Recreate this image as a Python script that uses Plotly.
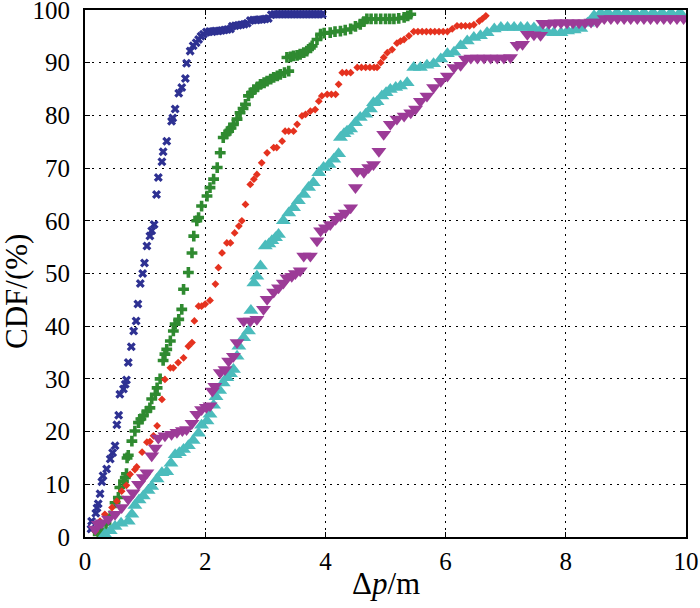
import plotly.graph_objects as go

# CDF of position error (x in m, y in %)
blue_x = [0.10, 0.11, 0.18, 0.20, 0.22, 0.25, 0.28, 0.30, 0.36, 0.42, 0.46, 0.50,
          0.53, 0.56, 0.58, 0.64, 0.67, 0.69, 0.72, 0.77, 0.81, 0.85, 0.88, 0.92,
          0.96, 0.99, 1.03, 1.08, 1.11, 1.15, 1.19, 1.22, 1.28, 1.30, 1.36, 1.44,
          1.46, 1.50, 1.56, 1.61, 1.67, 1.69, 1.75, 1.80, 1.85, 1.89, 1.93, 1.97,
          2.02, 2.07, 2.12, 2.17, 2.22, 2.27, 2.32, 2.37, 2.42,
          2.45, 2.50, 2.55, 2.60, 2.65, 2.70,
          2.75, 2.80, 2.85, 2.90, 2.95, 3.00, 3.05,
          3.10, 3.15, 3.20, 3.25, 3.30, 3.35, 3.40, 3.45, 3.50, 3.55, 3.60, 3.65,
          3.70, 3.75, 3.80, 3.85, 3.90, 3.95]
blue_y = [1.5, 3.0, 4.5, 5.5, 6.3, 8.2, 10.5, 11.6, 12.9, 14.8, 16.0, 17.3,
          21.3, 23.1, 27.1, 28.1, 29.0, 29.8, 33.1, 36.1, 39.1, 41.0, 44.2, 48.1,
          50.0, 52.0, 55.2, 57.1, 58.1, 59.3, 65.0, 68.2, 71.2, 73.1, 75.1, 78.9,
          79.5, 81.2, 84.2, 85.3, 87.0, 89.9, 92.2, 93.2, 93.8, 94.4, 95.0, 95.4,
          95.8, 95.9, 95.9, 96.0, 96.0, 96.1, 96.2, 96.3, 96.4,
          96.9, 97.0, 97.1, 97.2, 97.3, 97.5,
          98.0, 98.1, 98.1, 98.2, 98.2, 98.3, 98.4,
          99.1, 99.2, 99.2, 99.2, 99.2, 99.2, 99.2, 99.2, 99.2, 99.2, 99.2, 99.2,
          99.2, 99.2, 99.2, 99.2, 99.2, 99.2]

green_x = [0.22, 0.25, 0.28, 0.35, 0.42, 0.50, 0.555, 0.58, 0.64, 0.67, 0.69, 0.70,
           0.72, 0.78, 0.83, 0.89, 0.93, 0.97, 1.03, 1.08, 1.11, 1.17, 1.20, 1.25,
           1.30, 1.33, 1.36, 1.42, 1.47, 1.50, 1.56, 1.61, 1.64, 1.72, 1.78, 1.81,
           1.86, 1.89, 1.94, 2.03, 2.08, 2.14, 2.20, 2.25, 2.30, 2.35, 2.39, 2.43,
           2.47, 2.53, 2.58, 2.63, 2.67, 2.72, 2.77, 2.81, 2.87, 2.92, 2.98, 3.03,
           3.09, 3.14, 3.20, 3.25, 3.32, 3.39, 3.36, 3.42, 3.47, 3.53, 3.58, 3.64,
           3.69, 3.75, 3.78, 3.86, 3.92, 3.98, 4.08, 4.16, 4.25, 4.33, 4.42, 4.50,
           4.58, 4.64, 4.69, 4.76, 4.84, 4.92, 5.00, 5.07, 5.14, 5.22, 5.31, 5.37,
           5.42]
green_y = [0.5, 0.9, 1.3, 2.5, 4.0, 6.5, 7.5, 9.4, 10.6, 11.3, 12.0, 15.0,
           15.5, 18.2, 20.1, 21.7, 22.4, 23.0, 23.9, 24.5, 26.2, 27.1, 28.3, 30.0,
           33.5, 34.7, 35.6, 37.2, 39.1, 40.4, 41.3, 43.2, 47.0, 50.2, 53.9, 57.1,
           60.0, 60.6, 62.8, 64.7, 66.3, 67.9, 70.1, 72.9, 75.8, 76.5, 77.0, 77.6,
           78.3, 79.3, 80.5, 81.3, 82.1, 83.7, 84.3, 84.9, 85.4, 85.9, 86.2, 86.5,
           86.9, 87.2, 87.5, 87.8, 88.1, 88.4, 91.0, 91.1, 91.3, 91.4, 91.6, 91.9,
           92.2, 92.8, 93.2, 94.4, 95.4, 95.6, 95.7, 95.9, 96.0, 96.2, 96.4, 96.9,
           97.3, 97.8, 98.3, 98.3, 98.3, 98.3, 98.3, 98.3, 98.3, 98.4, 98.6, 98.9,
           99.2]

red_x = [0.17, 0.25, 0.33, 0.45, 0.53, 0.61, 0.69, 0.75, 0.83, 0.86, 0.95, 1.03,
         1.08, 1.14, 1.20, 1.28, 1.33, 1.42, 1.47, 1.55, 1.64, 1.72, 1.78, 1.82,
         1.89, 1.94, 2.00, 2.08, 2.17, 2.22, 2.28, 2.36, 2.42, 2.49, 2.56, 2.61,
         2.67, 2.75, 2.81, 2.86, 2.94, 3.03, 3.14, 3.19, 3.28, 3.33, 3.39, 3.47,
         3.53, 3.61, 3.67, 3.75, 3.83, 3.89, 3.94, 4.03, 4.10, 4.17, 4.22, 4.28,
         4.35, 4.42, 4.53, 4.60, 4.67, 4.74, 4.81, 4.86, 4.92, 4.97, 5.03, 5.11,
         5.19, 5.25, 5.31, 5.39, 5.47, 5.54, 5.61, 5.68, 5.75, 5.82, 5.89, 5.96,
         6.03, 6.11, 6.19, 6.26, 6.33, 6.40, 6.47, 6.56, 6.61, 6.67]
red_y = [1.1, 3.0, 4.3, 5.6, 6.8, 8.7, 9.8, 11.9, 12.8, 13.3, 16.1, 18.0,
         18.1, 19.2, 21.1, 26.1, 29.9, 32.1, 32.1, 33.1, 34.0, 36.2, 36.9, 41.0,
         43.8, 43.8, 44.2, 44.9, 48.0, 51.1, 53.9, 55.8, 55.8, 57.7, 59.0, 60.0,
         63.1, 66.9, 67.9, 68.8, 71.0, 72.9, 73.9, 73.9, 75.1, 77.0, 77.0, 77.0,
         78.3, 79.9, 80.2, 80.8, 81.1, 82.7, 83.7, 84.0, 84.0, 84.0, 85.9, 88.1,
         88.1, 88.1, 89.1, 89.1, 89.1, 89.1, 89.1, 89.1, 90.0, 91.0, 91.9, 92.5,
         93.7, 94.1, 94.4, 95.1, 95.9, 95.9, 95.9, 95.9, 95.9, 95.9, 95.9, 95.9,
         95.9, 96.4, 97.0, 97.0, 97.0, 97.0, 97.2, 97.9, 98.3, 98.9]

cyan_x = [0.33, 0.42, 0.50, 0.60, 0.72, 0.78, 0.83, 0.90, 0.97, 1.05, 1.11, 1.20,
          1.28, 1.36, 1.43, 1.50, 1.57, 1.64, 1.72, 1.80, 1.89, 1.94, 2.03, 2.08,
          2.14, 2.18, 2.24, 2.30, 2.36, 2.42, 2.47, 2.53, 2.56, 2.64, 2.72, 2.76,
          2.81, 2.86, 2.92, 3.00, 3.06, 3.11, 3.17, 3.22, 3.30, 3.39, 3.47, 3.55,
          3.64, 3.72, 3.80, 3.89, 3.97, 4.06, 4.14, 4.22, 4.25, 4.31, 4.36, 4.42,
          4.50, 4.58, 4.67, 4.75, 4.80, 4.86, 4.94, 5.01, 5.08, 5.17, 5.25, 5.36,
          5.47, 5.58, 5.69, 5.80, 5.92, 6.03, 6.14, 6.25, 6.36, 6.47, 6.58, 6.69,
          6.81, 6.92, 7.03, 7.14, 7.25, 7.36, 7.47, 7.58, 7.70, 7.80, 7.92, 8.03,
          8.14, 8.25, 8.36, 8.47, 8.58, 8.70, 8.85, 9.00, 9.15, 9.30, 9.45, 9.60,
          9.75, 9.90]
cyan_y = [0.5, 1.2, 2.0, 2.6, 3.0, 4.3, 6.0, 7.0, 7.8, 8.8, 9.6, 11.0,
          12.2, 12.4, 14.0, 15.6, 16.0, 16.6, 17.3, 18.3, 19.7, 21.2, 22.0, 23.3,
          25.0, 26.6, 27.8, 29.2, 30.2, 31.0, 31.8, 34.3, 36.2, 37.8, 39.1, 43.0,
          48.2, 49.5, 51.4, 55.2, 55.6, 56.2, 56.8, 57.4, 60.0, 61.5, 62.5, 63.8,
          65.0, 66.3, 67.2, 69.1, 70.1, 70.7, 71.7, 72.7, 75.8, 76.5, 77.0, 77.4,
          78.6, 79.6, 80.2, 81.2, 82.4, 82.6, 83.7, 84.3, 84.9, 85.3, 85.6, 86.2,
          89.1, 89.1, 89.5, 89.8, 90.7, 91.7, 92.0, 93.2, 94.1, 94.8, 95.1, 95.7,
          96.4, 96.7, 96.7, 96.7, 96.7, 96.7, 96.6, 96.2, 95.8, 95.7, 95.7, 96.0,
          96.2, 96.5, 97.5, 98.9, 99.4, 99.5, 99.5, 99.5, 99.5, 99.5, 99.5, 99.5,
          99.5, 99.5]

magenta_x = [0.17, 0.22, 0.28, 0.39, 0.50, 0.61, 0.72, 0.80, 0.89, 0.97, 1.03, 1.11,
             1.17, 1.22, 1.33, 1.44, 1.53, 1.62, 1.69, 1.78, 1.86, 1.94, 2.02, 2.08,
             2.12, 2.16, 2.25, 2.33, 2.39, 2.47, 2.53, 2.64, 2.75, 2.86, 2.97, 3.03,
             3.14, 3.22, 3.30, 3.36, 3.44, 3.50, 3.58, 3.64, 3.75, 3.86, 3.92, 4.00,
             4.08, 4.17, 4.25, 4.33, 4.42, 4.50, 4.53, 4.64, 4.72, 4.80, 4.89, 4.97,
             5.08, 5.19, 5.31, 5.42, 5.50, 5.58, 5.69, 5.80, 5.92, 6.03, 6.14, 6.25,
             6.33, 6.42, 6.53, 6.64, 6.75, 6.86, 6.97, 7.08, 7.19, 7.28, 7.36, 7.47,
             7.58, 7.62, 7.72, 7.82, 7.92, 8.02, 8.12, 8.22, 8.32, 8.42, 8.52, 8.64,
             8.75, 8.86, 8.97, 9.08, 9.19, 9.30, 9.41, 9.52, 9.63, 9.74, 9.85, 9.96]
magenta_y = [1.5, 2.4, 2.7, 3.4, 4.3, 5.6, 7.2, 8.4, 10.0, 11.3, 12.2, 15.4,
             16.9, 18.8, 19.2, 19.5, 19.9, 20.2, 20.4, 21.6, 23.3, 24.2, 24.6, 24.9,
             27.7, 28.6, 31.2, 31.8, 33.4, 34.3, 36.9, 41.0, 41.0, 41.3, 43.2, 45.1,
             46.5, 47.3, 48.2, 49.2, 49.5, 50.0, 50.5, 53.3, 53.3, 56.2, 58.1, 58.7,
             59.3, 60.3, 60.9, 61.5, 62.5, 66.3, 69.4, 69.2, 70.1, 70.7, 73.2, 76.4,
             78.3, 79.3, 79.9, 80.5, 81.2, 82.7, 83.7, 85.3, 86.5, 87.5, 89.1, 89.5,
             90.7, 90.9, 90.9, 90.9, 90.9, 90.9, 90.9, 91.0, 93.3, 93.5, 95.4, 95.3,
             95.2, 97.5, 97.5, 97.6, 97.6, 97.6, 97.6, 97.6, 97.6, 97.7, 97.7, 98.4,
             98.4, 98.4, 98.4, 98.4, 98.4, 98.4, 98.4, 98.4, 98.4, 98.4, 98.4, 98.4]

x_ticks = [0, 2, 4, 6, 8, 10]
y_ticks = [0, 10, 20, 30, 40, 50, 60, 70, 80, 90, 100]

series = [
    (blue_x, blue_y, "#2E3192", "x", 8),
    (green_x, green_y, "#2F8A30", "cross", 9),
    (red_x, red_y, "#E5321F", "diamond", 6),
    (cyan_x, cyan_y, "#4BBCBC", "triangle-up", 13),
    (magenta_x, magenta_y, "#9C3B97", "triangle-down", 13),
]

fig = go.Figure()
for xs, ys, color, symbol, size in series:
    fig.add_trace(go.Scatter(
        x=xs, y=ys, mode="markers",
        marker=dict(symbol=symbol, size=size, color=color, line=dict(width=0)),
        showlegend=False,
    ))

serif = "Liberation Serif, Times New Roman, serif"
tick_font = dict(family=serif, size=25, color="black")
title_font = dict(family=serif, size=31, color="black")
common = dict(
    showline=True, linecolor="black", linewidth=2, mirror="ticks",
    ticks="inside", ticklen=5, tickwidth=1, tickcolor="black",
    showgrid=True, gridcolor="black", gridwidth=1, griddash="2px,5px",
    zeroline=False, tickfont=tick_font, ticklabeloverflow="allow",
)

fig.update_xaxes(range=[0, 10], tickvals=x_ticks, ticklabelstandoff=1, **common)
fig.update_yaxes(range=[0, 100], tickvals=y_ticks, ticklabelstandoff=8, **common)

# axis titles as annotations so they sit where the reference has them
fig.add_annotation(text="Δ<i>p</i>/m", xref="paper", yref="paper", x=0.5, y=-0.089,
                   xanchor="center", yanchor="middle", showarrow=False, font=title_font)
fig.add_annotation(text="CDF/(%)", xref="paper", yref="paper", x=-0.113, y=0.465,
                   xanchor="center", yanchor="middle", showarrow=False, textangle=-90,
                   font=title_font)

fig.update_layout(
    width=700, height=608,
    margin=dict(l=85, r=14, t=10, b=71, autoexpand=False),
    plot_bgcolor="white", paper_bgcolor="white",
)

# the page's default 8px body margin would shift the whole figure
fig.write_html("out.html", config={"displayModeBar": False},
               post_script="document.body.style.margin='0';")
